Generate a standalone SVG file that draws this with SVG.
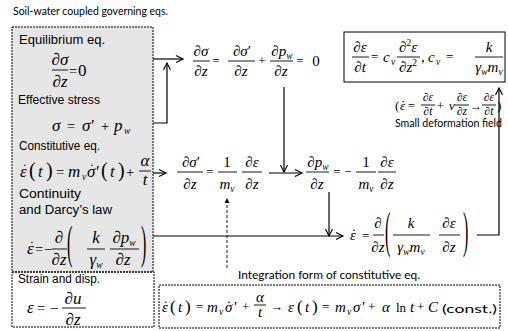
<svg xmlns="http://www.w3.org/2000/svg" width="508" height="331" viewBox="0 0 508 331">
<defs>
<style>
.g{font-size:17px}
.p{font-size:20px}
.i{font-style:italic}
.o{font-size:13px}
.o2{font-size:14.5px}
.sb{font-size:9.5px}
.sm{font-size:11.5px}
.dt{font-size:14px}
.bar{stroke:#000;stroke-width:0.9}
.cn{stroke:#000;stroke-width:1.2;fill:none}
.dsh{stroke:#000;stroke-width:0.9;fill:none;stroke-dasharray:3 2}
.box{stroke:#000;stroke-width:1;stroke-dasharray:2 1}
.sol{fill:none;stroke:#000;stroke-width:1}
</style>
<marker id="ah" markerUnits="userSpaceOnUse" markerWidth="10" markerHeight="10" refX="8" refY="4" orient="auto"><path d="M1,0.5 L8,4 L1,7.5" fill="none" stroke="#000" stroke-width="1.1"/></marker>
<marker id="ahs" markerUnits="userSpaceOnUse" markerWidth="6" markerHeight="6" refX="5" refY="2.5" orient="auto"><path d="M0,0 L5,2.5 L0,5z" fill="#000"/></marker>
</defs>
<rect width="508" height="331" fill="#fff"/>

<text id="title" font-family="Lato, sans-serif" font-size="11" x="13" y="15" textLength="155" lengthAdjust="spacingAndGlyphs">Soil-water coupled governing eqs.</text>

<g id="n_gray">
<rect x="12" y="27" width="141" height="245" fill="#e6e6e6" class="box"/>
<g font-family="Liberation Sans, Arial, sans-serif" font-size="12.5">
<text x="19" y="44" textLength="86" lengthAdjust="spacingAndGlyphs">Equilibrium eq.</text>
<text x="18" y="104" textLength="82" lengthAdjust="spacingAndGlyphs">Effective stress</text>
<text x="19" y="150" textLength="81" lengthAdjust="spacingAndGlyphs">Constitutive eq.</text>
<text x="19" y="198" textLength="62" lengthAdjust="spacingAndGlyphs">Continuity</text>
<text x="19" y="214" textLength="93" lengthAdjust="spacingAndGlyphs">and Darcy’s law</text>
</g>
<g font-family="Liberation Serif, Times New Roman, serif" font-size="17">
<text x="60" y="65" text-anchor="middle">∂<tspan class="i">σ</tspan></text>
<line class="bar" x1="52" y1="70" x2="68" y2="70"/>
<text x="60" y="87" text-anchor="middle">∂<tspan class="i">z</tspan></text>
<text y="76"><tspan class="o2" x="69">=</tspan><tspan x="78">0</tspan></text>

<text y="131"><tspan class="i" x="52">σ</tspan><tspan class="o2" x="67">=</tspan><tspan class="i" x="82">σ</tspan><tspan x="91">′</tspan><tspan class="o2" x="101">+</tspan><tspan class="i" x="114">p</tspan><tspan class="i sb" x="124" dy="3">w</tspan></text>

<text y="177"><tspan class="i" x="20">ε</tspan><tspan class="dt" x="22.5" dy="-3">˙</tspan><tspan x="29" dy="3" class="p">(</tspan><tspan class="i" x="38">t</tspan><tspan class="p" x="46">)</tspan><tspan class="o2" x="56">=</tspan><tspan class="i" x="68">m</tspan><tspan class="i sb" x="82" dy="3">v</tspan><tspan class="i" x="87" dy="-3">σ</tspan><tspan class="dt" x="89.5" dy="-3">˙</tspan><tspan x="96" dy="3">′</tspan><tspan class="p" x="101">(</tspan><tspan class="i" x="110">t</tspan><tspan class="p" x="118">)</tspan><tspan class="o2" x="126">+</tspan></text>
<text class="i" x="145" y="166" text-anchor="middle">α</text>
<line class="bar" x1="139" y1="171" x2="151" y2="171"/>
<text class="i" x="145" y="185" text-anchor="middle">t</text>

<text y="254"><tspan class="i" x="27">ε</tspan><tspan class="dt" x="29.5" dy="-3">˙</tspan><tspan class="o2" x="35" dy="3">=</tspan><tspan class="o2" x="44">−</tspan></text>
<text x="59" y="243" text-anchor="middle">∂</text>
<line class="bar" x1="52" y1="249" x2="67" y2="249"/>
<text x="59" y="265" text-anchor="middle">∂<tspan class="i">z</tspan></text>
<text transform="translate(67,257.5) scale(1,2.95)" font-size="16">(</text>
<text class="i" x="96" y="243" text-anchor="middle">k</text>
<line class="bar" x1="87" y1="249" x2="105" y2="249"/>
<text x="96" y="265" text-anchor="middle"><tspan class="i">γ</tspan><tspan class="i sb" dy="3">w</tspan></text>
<text x="124" y="243" text-anchor="middle">∂<tspan class="i">p</tspan><tspan class="i sb" dy="3">w</tspan></text>
<line class="bar" x1="110" y1="249" x2="139" y2="249"/>
<text x="123" y="265" text-anchor="middle">∂<tspan class="i">z</tspan></text>
<text transform="translate(141,257.5) scale(1,2.95)" font-size="16">)</text>
</g>
</g>

<g id="n_strain">
<rect x="12" y="272" width="142" height="55" fill="none" class="box"/>
<text font-family="Liberation Sans, Arial, sans-serif" font-size="12.5" x="18" y="283" textLength="82" lengthAdjust="spacingAndGlyphs">Strain and disp.</text>
<g font-family="Liberation Serif, Times New Roman, serif" font-size="17">
<text y="313"><tspan class="i" x="27">ε</tspan><tspan class="o2" x="37">=</tspan><tspan class="o2" x="50">−</tspan></text>
<text x="73" y="304" text-anchor="middle">∂<tspan class="i">u</tspan></text>
<line class="bar" x1="62" y1="308" x2="86" y2="308"/>
<text x="73" y="325" text-anchor="middle">∂<tspan class="i">z</tspan></text>
</g>
</g>

<g font-family="Liberation Serif, Times New Roman, serif" font-size="15">
<g id="n_eq1">
<text x="201" y="56" text-anchor="middle">∂<tspan class="i">σ</tspan></text>
<line class="bar" x1="193" y1="61" x2="210" y2="61"/>
<text x="201" y="76" text-anchor="middle">∂<tspan class="i">z</tspan></text>
<text class="o" x="216" y="65" text-anchor="middle">=</text>
<text x="242" y="56" text-anchor="middle">∂<tspan class="i">σ</tspan>′</text>
<line class="bar" x1="228" y1="61" x2="255" y2="61"/>
<text x="241" y="76" text-anchor="middle">∂<tspan class="i">z</tspan></text>
<text class="o" x="262" y="65" text-anchor="middle">+</text>
<text x="282" y="56" text-anchor="middle">∂<tspan class="i">p</tspan><tspan class="i sb" dy="3">w</tspan></text>
<line class="bar" x1="270" y1="61" x2="293" y2="61"/>
<text x="281" y="76" text-anchor="middle">∂<tspan class="i">z</tspan></text>
<text class="o" x="300" y="65" text-anchor="middle">=</text>
<text x="316" y="66" text-anchor="middle">0</text>
</g>

<g id="n_eq2">
<text x="191" y="167" text-anchor="middle">∂<tspan class="i">σ</tspan>′</text>
<line class="bar" x1="177" y1="172" x2="203" y2="172"/>
<text x="190" y="189" text-anchor="middle">∂<tspan class="i">z</tspan></text>
<text class="o" x="210" y="176" text-anchor="middle">=</text>
<text x="227" y="167" text-anchor="middle">1</text>
<line class="bar" x1="218" y1="172" x2="237" y2="172"/>
<text x="227" y="189" text-anchor="middle"><tspan class="i">m</tspan><tspan class="i sb" dy="3">v</tspan></text>
<text x="252" y="167" text-anchor="middle">∂<tspan class="i">ε</tspan></text>
<line class="bar" x1="242" y1="172" x2="262" y2="172"/>
<text x="252" y="189" text-anchor="middle">∂<tspan class="i">z</tspan></text>
</g>

<g id="n_eq3">
<text x="318" y="167" text-anchor="middle">∂<tspan class="i">p</tspan><tspan class="i sb" dy="3">w</tspan></text>
<line class="bar" x1="306" y1="172" x2="329" y2="172"/>
<text x="317" y="189" text-anchor="middle">∂<tspan class="i">z</tspan></text>
<text class="o" x="337" y="176" text-anchor="middle">=</text>
<text class="o" x="348" y="176" text-anchor="middle">−</text>
<text x="366" y="167" text-anchor="middle">1</text>
<line class="bar" x1="356" y1="172" x2="376" y2="172"/>
<text x="366" y="189" text-anchor="middle"><tspan class="i">m</tspan><tspan class="i sb" dy="3">v</tspan></text>
<text x="387" y="167" text-anchor="middle">∂<tspan class="i">ε</tspan></text>
<line class="bar" x1="378" y1="172" x2="396" y2="172"/>
<text x="387" y="189" text-anchor="middle">∂<tspan class="i">z</tspan></text>
</g>

<g id="n_eq4">
<text y="240"><tspan class="i" x="350">ε</tspan><tspan x="351.2" dy="-1">˙</tspan><tspan class="o" x="362" dy="1">=</tspan></text>
<text x="378" y="228" text-anchor="middle">∂</text>
<line class="bar" x1="373" y1="235" x2="384" y2="235"/>
<text x="378" y="252" text-anchor="middle">∂<tspan class="i">z</tspan></text>
<text transform="translate(385,247) scale(1,3.2)" font-size="16">(</text>
<text class="i" x="411" y="228" text-anchor="middle">k</text>
<line class="bar" x1="393" y1="235" x2="430" y2="235"/>
<text x="411" y="252" text-anchor="middle"><tspan class="i">γ</tspan><tspan class="i sb" dy="3">w</tspan><tspan class="i" dy="-3">m</tspan><tspan class="i sb" dy="3">v</tspan></text>
<text x="449" y="228" text-anchor="middle">∂<tspan class="i">ε</tspan></text>
<line class="bar" x1="439" y1="235" x2="460" y2="235"/>
<text x="449" y="252" text-anchor="middle">∂<tspan class="i">z</tspan></text>
<text transform="translate(463,247) scale(1,3.2)" font-size="16">)</text>
</g>

<g id="n_cons">
<rect x="344" y="32" width="161" height="50" class="sol"/>
<text x="360" y="52" text-anchor="middle">∂<tspan class="i">ε</tspan></text>
<line class="bar" x1="352" y1="57" x2="369" y2="57"/>
<text x="360" y="72" text-anchor="middle">∂<tspan class="i">t</tspan></text>
<text y="62"><tspan class="o" x="371" dy="-1">=</tspan><tspan class="i" x="383" dy="1">c</tspan><tspan class="i sb" x="391" dy="3">v</tspan></text>
<text x="408" y="52" text-anchor="middle">∂<tspan class="sb" dy="-6">2</tspan><tspan class="i" dy="6">ε</tspan></text>
<line class="bar" x1="397" y1="57" x2="420" y2="57"/>
<text x="408" y="72" text-anchor="middle">∂<tspan class="i">z</tspan><tspan class="sb" dy="-6">2</tspan></text>
<text y="62"><tspan x="421">,</tspan><tspan class="i" x="428">c</tspan><tspan class="i sb" x="436" dy="3">v</tspan><tspan class="o" x="446" dy="-4">=</tspan></text>
<text class="i" x="489" y="52" text-anchor="middle">k</text>
<line class="bar" x1="475" y1="57" x2="503" y2="57"/>
<text x="489" y="72" text-anchor="middle"><tspan class="i">γ</tspan><tspan class="i sb" dy="3">w</tspan><tspan class="i" dy="-3">m</tspan><tspan class="i sb" dy="3">v</tspan></text>
</g>

<g id="n_small">
<text y="110" font-size="13"><tspan x="395">(</tspan><tspan class="i" x="400">ε</tspan><tspan x="401" dy="-1">˙</tspan><tspan x="408" dy="1" font-size="12">=</tspan><tspan x="437" font-size="12">+</tspan><tspan class="i" x="449">v</tspan><tspan x="470" font-size="12">→</tspan><tspan x="497">)</tspan></text>
<text class="sm" x="428" y="101" text-anchor="middle">∂<tspan class="i">ε</tspan></text>
<line class="bar" x1="421" y1="105" x2="435" y2="105"/>
<text class="sm" x="428" y="115" text-anchor="middle">∂<tspan class="i">t</tspan></text>
<text class="sm" x="462" y="101" text-anchor="middle">∂<tspan class="i">ε</tspan></text>
<line class="bar" x1="455" y1="105" x2="469" y2="105"/>
<text class="sm" x="462" y="115" text-anchor="middle">∂<tspan class="i">z</tspan></text>
<text class="sm" x="489" y="101" text-anchor="middle">∂<tspan class="i">ε</tspan></text>
<line class="bar" x1="482" y1="105" x2="496" y2="105"/>
<text class="sm" x="489" y="115" text-anchor="middle">∂<tspan class="i">t</tspan></text>
<text font-family="Lato, sans-serif" font-size="10.5" x="395" y="127" textLength="107" lengthAdjust="spacingAndGlyphs">Small deformation field</text>
</g>

<g id="n_integ">
<text font-family="Lato, sans-serif" font-size="11" x="238" y="279" textLength="182" lengthAdjust="spacingAndGlyphs">Integration form of constitutive eq.</text>
<rect x="159" y="285" width="341" height="43" fill="none" class="box"/>
<text y="312"><tspan class="i" x="162">ε</tspan><tspan x="163.2" dy="-1">˙</tspan><tspan x="170" dy="1" font-size="17">(</tspan><tspan class="i" x="178">t</tspan><tspan x="185" font-size="17">)</tspan><tspan class="o" x="196" dy="-1">=</tspan><tspan class="i" x="207" dy="1">m</tspan><tspan class="i sb" x="219" dy="3">v</tspan><tspan class="i" x="225" dy="-3">σ</tspan><tspan x="226.2" dy="-1">˙</tspan><tspan x="234" dy="1">′</tspan><tspan class="o" x="242" dy="-1">+</tspan><tspan class="o" x="270">→</tspan><tspan class="i" x="288" dy="1">ε</tspan><tspan x="297" font-size="17">(</tspan><tspan class="i" x="305">t</tspan><tspan x="312" font-size="17">)</tspan><tspan class="o" x="322" dy="-1">=</tspan><tspan class="i" x="335" dy="1">m</tspan><tspan class="i sb" x="347" dy="3">v</tspan><tspan class="i" x="353" dy="-3">σ</tspan><tspan x="362">′</tspan><tspan class="o" x="368" dy="-1">+</tspan><tspan class="i" x="382" dy="1">α</tspan><tspan x="396" font-size="13">ln</tspan><tspan class="i" x="410">t</tspan><tspan class="o" x="417" dy="-1">+</tspan><tspan class="i" x="428" dy="1">C</tspan></text>
<text class="i" x="260" y="302" text-anchor="middle">α</text>
<line class="bar" x1="254" y1="305" x2="266" y2="305"/>
<text class="i" x="260" y="317" text-anchor="middle">t</text>
<text font-family="Lato, sans-serif" font-size="11.5" x="442" y="313" textLength="55" lengthAdjust="spacingAndGlyphs">(const.)</text>
</g>
</g>

<g id="connectors">
<path class="cn" d="M153,59 H183" marker-end="url(#ah)"/>
<path class="cn" d="M153,123 H167 V63" marker-end="url(#ah)"/>
<path class="cn" d="M153,173 H166" marker-end="url(#ah)"/>
<path class="cn" d="M284,87 V172" marker-end="url(#ah)"/>
<path class="cn" d="M269,173 H302" marker-end="url(#ah)"/>
<path class="dsh" d="M227,268 V198" marker-end="url(#ahs)"/>
<path class="cn" d="M153,236 H343" marker-end="url(#ah)"/>
<path class="cn" d="M329,192 V236" marker-end="url(#ah)"/>
<path class="cn" d="M477,235 H499 V88" marker-end="url(#ah)"/>
</g>
</svg>
